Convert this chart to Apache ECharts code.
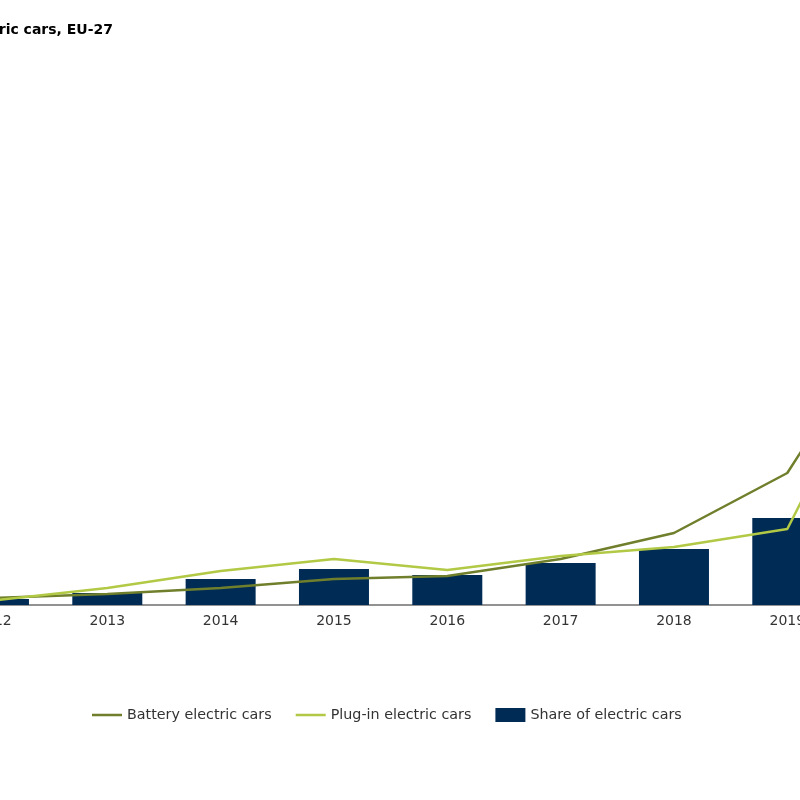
<!DOCTYPE html>
<html>
<head>
<meta charset="utf-8">
<script src="https://cdn.jsdelivr.net/npm/echarts@6/dist/echarts.min.js"></script>
<style>
html,body{margin:0;padding:0;background:#fff;}
#chart{width:800px;height:800px;}
</style>
</head>
<body>
<div id="chart"></div>
<script>
// Years (categories)
const years = ['2012', '2013', '2014', '2015', '2016', '2017', '2018', '2019', '2020'];
// New registrations, thousands
const batteryElectric = [14, 22, 34, 52, 58, 92, 144, 264, 616];
const plugInElectric = [9, 34, 68, 92, 70, 98, 116, 152, 596];
// Share of electric cars in new registrations, %
const shareElectric = [0.24, 0.48, 1.04, 1.44, 1.2, 1.68, 2.24, 3.48, 10.5];

const chart = echarts.init(document.getElementById('chart'), null, {renderer: 'canvas'});
const font = 'DejaVu Sans';
const lineIcon = 'path://M0,0H30V2.5H0Z';
chart.setOption({
  animation: false,
  backgroundColor: '#ffffff',
  title: {
    text: 'New registrations of electric cars, EU-27',
    right: 687,
    top: 23,
    padding: 0,
    textStyle: {fontFamily: font, fontSize: 14, fontWeight: 'bold', color: '#000'}
  },
  grid: {left: -62.7, right: -157.3, top: 105, bottom: 195, containLabel: false, outerBoundsMode: 'none'},
  legend: {
    left: 92,
    top: 708,
    padding: 0,
    itemWidth: 30,
    itemHeight: 14,
    itemGap: 24,
    textStyle: {fontFamily: font, fontSize: 14.3, color: '#333'},
    data: [
      {name: 'Battery electric cars', icon: lineIcon},
      {name: 'Plug-in electric cars', icon: lineIcon},
      {name: 'Share of electric cars', icon: 'rect'}
    ]
  },
  xAxis: {
    type: 'category',
    data: years,
    boundaryGap: true,
    axisLine: {lineStyle: {color: '#6e6e6e', width: 1.5}},
    axisTick: {show: false},
    axisLabel: {interval: 0, fontFamily: font, fontSize: 14, color: '#333', margin: 9}
  },
  yAxis: [
    {type: 'value', min: 0, max: 1000, show: false, splitLine: {show: false}},
    {type: 'value', min: 0, max: 20, show: false, splitLine: {show: false}}
  ],
  series: [
    {
      name: 'Share of electric cars',
      type: 'bar',
      yAxisIndex: 1,
      data: shareElectric,
      barWidth: 70,
      itemStyle: {color: '#002b55'}
    },
    {
      name: 'Battery electric cars',
      type: 'line',
      yAxisIndex: 0,
      data: batteryElectric,
      symbol: 'none',
      lineStyle: {color: '#6f7f2b', width: 2.5},
      itemStyle: {color: '#6f7f2b'}
    },
    {
      name: 'Plug-in electric cars',
      type: 'line',
      yAxisIndex: 0,
      data: plugInElectric,
      symbol: 'none',
      lineStyle: {color: '#b1c944', width: 2.5},
      itemStyle: {color: '#b1c944'}
    }
  ]
});
</script>
</body>
</html>
